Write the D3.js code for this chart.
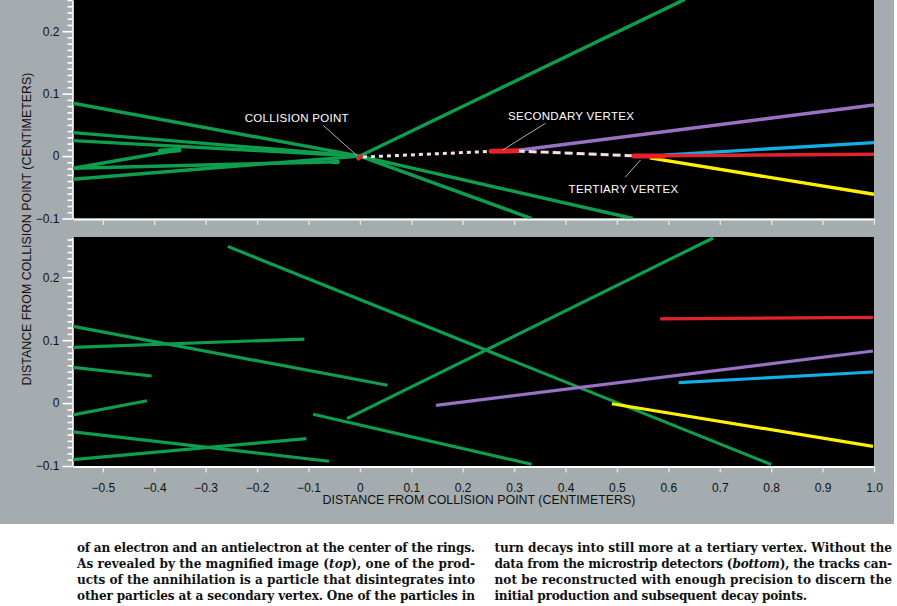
<!DOCTYPE html>
<html>
<head>
<meta charset="utf-8">
<script src="https://cdn.jsdelivr.net/npm/d3@7"></script>
<style>
  html, body { margin: 0; padding: 0; background: #ffffff; }
  svg { display: block; }
</style>
</head>
<body>
<svg id="chart" width="897" height="606"></svg>
<script>
// ---------------- DATA ----------------
const xTickValues = [-0.5, -0.4, -0.3, -0.2, -0.1, 0, 0.1, 0.2, 0.3, 0.4, 0.5, 0.6, 0.7, 0.8, 0.9, 1.0];
const yTickValues = [-0.1, 0, 0.1, 0.2];
const xTitle = "DISTANCE FROM COLLISION POINT (CENTIMETERS)";
const yTitle = "DISTANCE FROM COLLISION POINT (CENTIMETERS)";

// top panel (magnified reconstruction) tracks: [x1, y1, x2, y2, kind]
const topTracks = [
  [-0.558, 0.0846, 0, 0, "green"],
  [-0.558, 0.0375, 0, 0, "green"],
  [-0.558, 0.0247, 0, 0, "green"],
  [-0.558, -0.0195, -0.354, 0.0098, "green"],
  [-0.558, -0.0195, -0.044, -0.0090, "green"],
  [-0.558, -0.0372, 0, 0, "green"],
  [0, 0, 0.632, 0.251, "green"],
  [0, 0, 0.334, -0.100, "green"],
  [0, 0, 0.531, -0.100, "green"],
  [0.305, 0.0090, 1.0, 0.0819, "purple"],
  [0.590, 0.0015, 1.0, 0.0215, "cyan"],
  [0.590, 0.0005, 1.0, 0.0029, "red"],
  [0.564, -0.0030, 1.0, -0.0612, "yellow"]
];
// decay path (dashed) : collision -> secondary -> tertiary
const decayPath1 = [[0.006, -0.0015], [0.262, 0.0078]];
const decayPath2 = [[0.305, 0.0080], [0.540, 0.0002]];
// vertex blobs [x1, y1, x2, y2]
const vertexMarks = [
  [-0.003, -0.004, 0.002, 0.0],
  [0.255, 0.0078, 0.305, 0.0085],
  [0.533, 0.0002, 0.590, 0.0002]
];
// fuzzy track ends
const fuzzyEnds = [[-0.388, 0.0082, -0.352, 0.0098], [-0.052, -0.0092, -0.044, -0.0090]];

// annotations: text, label anchor (data), leader from, leader to
const annotations = [
  { text: "COLLISION POINT", lx: -0.224, ly: 0.0550, l1: [-0.071, 0.0490], l2: [-0.006, 0.0010] },
  { text: "SECONDARY VERTEX", lx: 0.288, ly: 0.0580, l1: [0.361, 0.0525], l2: [0.278, 0.0098] },
  { text: "TERTIARY VERTEX", lx: 0.406, ly: -0.0597, l1: [0.516, -0.0340], l2: [0.546, -0.0062] }
];

// bottom panel (microstrip detector) tracks
const bottomTracks = [
  [-0.257, 0.2491, 0.800, -0.0976, "green"],
  [-0.558, 0.1221, 0.054, 0.0283, "green"],
  [-0.558, 0.0887, -0.108, 0.1018, "green"],
  [-0.558, 0.0569, -0.405, 0.0431, "green"],
  [-0.558, -0.0189, -0.414, 0.0038, "green"],
  [-0.558, -0.0459, -0.060, -0.0925, "green"],
  [-0.558, -0.0899, -0.104, -0.0565, "green"],
  [-0.025, -0.0248, 0.687, 0.2625, "green"],
  [-0.091, -0.0178, 0.334, -0.0973, "green"],
  [0.148, -0.0035, 0.998, 0.0828, "purple"],
  [0.620, 0.0324, 0.998, 0.0494, "cyan"],
  [0.584, 0.1340, 0.998, 0.1361, "red"],
  [0.490, -0.0010, 0.998, -0.0687, "yellow"]
];

// caption text (two columns, four lines each)
const captionLeft = [
  [["of an electron and an antielectron at the center of the rings.", false]],
  [["As revealed by the magnified image (", false], ["top", true], ["), one of the prod-", false]],
  [["ucts of the annihilation is a particle that disintegrates into", false]],
  [["other particles at a secondary vertex. One of the particles in", false]]
];
const captionRight = [
  [["turn decays into still more at a tertiary vertex. Without the", false]],
  [["data from the microstrip detectors (", false], ["bottom", true], ["), the tracks can-", false]],
  [["not be reconstructed with enough precision to discern the", false]],
  [["initial production and subsequent decay points.", false]]
];
const captionWidthsRight = [397.5, 397.5, 397.5, 312.5];

// ---------------- STYLE ----------------
const colors = {
  green: "#0f9d4e",
  purple: "#9a72c4",
  cyan: "#12aee6",
  red: "#e3232b",
  yellow: "#fff200"
};
const bg = "#a4acaf";
const sans = "'Liberation Sans', Arial, Helvetica, sans-serif";

const svg = d3.select("#chart");

// backgrounds
svg.append("rect").attr("x", 0).attr("y", 0).attr("width", 897).attr("height", 606).attr("fill", "#ffffff");
svg.append("rect").attr("x", 0).attr("y", 0).attr("width", 894).attr("height", 524).attr("fill", bg);

// scales
const x = d3.scaleLinear().domain([-0.558, 1.0]).range([73, 874]);
const yTop = d3.scaleLinear().domain([-0.1, 0.25]).range([218.5, 0]);
const yBot = d3.scaleLinear().domain([-0.1, 0.264]).range([466, 237]);

function minorTicks(domain) {
  const out = [];
  for (let i = Math.round(domain[0] * 100); i <= Math.floor(domain[1] * 100 + 1e-9); i++) {
    if (i % 10 !== 0) out.push(i / 100);
  }
  return out;
}
const fmt = d => d === 0 ? "0" : d3.format(".1f")(d);

function panel(yScale, tracks, id, withLabels) {
  const [r0, r1] = yScale.range();
  const g = svg.append("g");
  g.append("rect")
    .attr("x", x.range()[0]).attr("y", r1)
    .attr("width", x.range()[1] - x.range()[0]).attr("height", r0 - r1)
    .attr("fill", "#000");
  svg.append("clipPath").attr("id", id)
    .append("rect")
    .attr("x", x.range()[0]).attr("y", r1)
    .attr("width", x.range()[1] - x.range()[0]).attr("height", r0 - r1);

  const yMinor = svg.append("g").attr("transform", "translate(72.5,0)")
    .call(d3.axisLeft(yScale).tickValues(minorTicks(yScale.domain())).tickSize(5).tickFormat(""));
  yMinor.select(".domain").remove();
  yMinor.selectAll("line").attr("stroke", "#ffffff").attr("stroke-width", 1.6);
  const yMajor = svg.append("g").attr("transform", "translate(72.5,0)")
    .call(d3.axisLeft(yScale).tickValues(yTickValues).tickSize(10).tickSizeOuter(0).tickPadding(3).tickFormat(fmt));
  yMajor.select(".domain").attr("stroke", "#ffffff").attr("stroke-width", 1.6);
  yMajor.selectAll("line").attr("stroke", "#ffffff").attr("stroke-width", 1.6);
  yMajor.selectAll("text").attr("fill", "#111").attr("font-family", sans).attr("font-size", "12px");

  const xa = svg.append("g").attr("transform", `translate(0,${r0 + 0.5})`)
    .call(d3.axisBottom(x).tickValues(xTickValues).tickSize(6).tickSizeOuter(0).tickPadding(10.5)
      .tickFormat(withLabels ? fmt : ""));
  xa.select(".domain").attr("stroke", "#ffffff").attr("stroke-width", 1.8);
  xa.selectAll("line").attr("stroke", "#e4e6e7").attr("stroke-width", 1.4);
  xa.selectAll("text").attr("fill", "#111").attr("font-family", sans).attr("font-size", "12px");

  const lines = svg.append("g").attr("clip-path", `url(#${id})`);
  lines.selectAll("line.track").data(tracks).join("line")
    .attr("class", "track")
    .attr("x1", d => x(d[0])).attr("y1", d => yScale(d[1]))
    .attr("x2", d => x(d[2])).attr("y2", d => yScale(d[3]))
    .attr("stroke", d => colors[d[4]])
    .attr("stroke-width", id === "clipTop" ? 3.4 : 3.2)
    .attr("stroke-linecap", "butt");
  return lines;
}

const topLayer = panel(yTop, topTracks, "clipTop", false);
const botLayer = panel(yBot, bottomTracks, "clipBot", true);

// fuzzy ends
topLayer.selectAll("line.fuzzy").data(fuzzyEnds).join("line")
  .attr("class", "fuzzy")
  .attr("x1", d => x(d[0])).attr("y1", d => yTop(d[1]))
  .attr("x2", d => x(d[2])).attr("y2", d => yTop(d[3]))
  .attr("stroke", colors.green).attr("stroke-width", 5).attr("stroke-linecap", "round");

// decay dashed path
const lineGen = d3.line().x(d => x(d[0])).y(d => yTop(d[1]));
topLayer.append("path").datum(decayPath1).attr("d", lineGen)
  .attr("fill", "none").attr("stroke", "#f6dde8").attr("stroke-width", 3).attr("stroke-dasharray", "4,4");
topLayer.append("path").datum(decayPath2).attr("d", lineGen)
  .attr("fill", "none").attr("stroke", "#f6dde8").attr("stroke-width", 3).attr("stroke-dasharray", "8,4");

// vertex marks
topLayer.selectAll("line.vtx").data(vertexMarks).join("line")
  .attr("class", "vtx")
  .attr("x1", d => x(d[0])).attr("y1", d => yTop(d[1]))
  .attr("x2", d => x(d[2])).attr("y2", d => yTop(d[3]))
  .attr("stroke", "#e8202a").attr("stroke-width", (d, i) => i === 0 ? 4 : 5)
  .attr("stroke-linecap", "round");

// annotations
const ann = svg.append("g");
ann.selectAll("line").data(annotations).join("line")
  .attr("x1", d => x(d.l1[0])).attr("y1", d => yTop(d.l1[1]))
  .attr("x2", d => x(d.l2[0])).attr("y2", d => yTop(d.l2[1]))
  .attr("stroke", "#d8d8d8").attr("stroke-width", 0.8);
ann.selectAll("text").data(annotations).join("text")
  .attr("x", d => x(d.lx)).attr("y", d => yTop(d.ly))
  .attr("fill", "#ffffff").attr("font-family", sans).attr("font-size", "11.5px")
  .attr("letter-spacing", "0.3px")
  .text(d => d.text);

// axis titles
svg.append("text").attr("x", 479).attr("y", 504).attr("text-anchor", "middle")
  .attr("font-family", sans).attr("font-size", "12.4px").attr("fill", "#111").text(xTitle);
svg.append("text").attr("transform", "translate(31,229) rotate(-90)").attr("text-anchor", "middle")
  .attr("font-family", sans).attr("font-size", "12.4px").attr("fill", "#111").text(yTitle);

// caption
function caption(lines, x0, widths) {
  const g = svg.append("g");
  lines.forEach((parts, i) => {
    const t = g.append("text").attr("x", x0).attr("y", 551.5 + i * 16)
      .attr("font-family", "'DejaVu Serif', serif").attr("font-weight", "bold")
      .attr("font-size", "12.1px").attr("fill", "#111");
    parts.forEach(p => {
      t.append("tspan").attr("font-style", p[1] ? "italic" : "normal").text(p[0]);
    });
    t.attr("textLength", widths[i]).attr("lengthAdjust", "spacing");
  });
}
caption(captionLeft, 77, [398, 398, 398, 398]);
caption(captionRight, 494.5, captionWidthsRight);
</script>
</body>
</html>
